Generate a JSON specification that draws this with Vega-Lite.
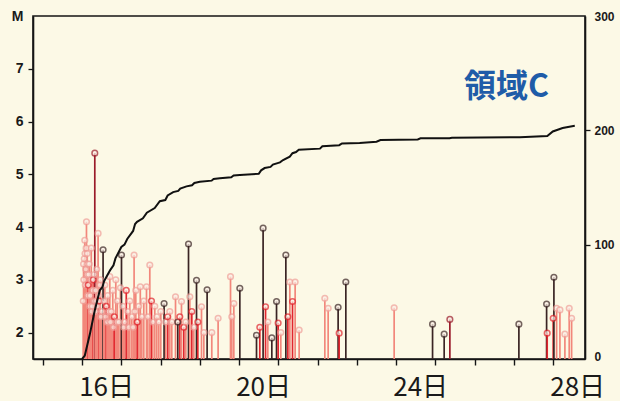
{
  "$schema": "https://vega.github.io/schema/vega-lite/v6.json",
  "width": 552,
  "height": 343,
  "autosize": {"type": "none"},
  "padding": {"left": 33, "top": 16, "right": 35, "bottom": 42},
  "background": "#fcf9e6",
  "config": {
    "view": {"stroke": "#151515", "strokeWidth": 1.6},
    "font": "Liberation Sans"
  },
  "datasets": {
    "eq": [
      {"day": 16.031, "M": 2.6, "c": "P"},
      {"day": 16.038, "M": 3.3, "c": "P"},
      {"day": 16.045, "M": 3.0, "c": "P"},
      {"day": 16.056, "M": 3.4, "c": "P"},
      {"day": 16.069, "M": 3.75, "c": "P"},
      {"day": 16.076, "M": 3.5, "c": "P"},
      {"day": 16.082, "M": 2.9, "c": "P"},
      {"day": 16.094, "M": 3.2, "c": "P"},
      {"day": 16.103, "M": 3.6, "c": "P"},
      {"day": 16.112, "M": 4.1, "c": "P"},
      {"day": 16.122, "M": 3.1, "c": "P"},
      {"day": 16.132, "M": 3.5, "c": "P"},
      {"day": 16.140, "M": 3.3, "c": "P"},
      {"day": 16.145, "M": 2.7, "c": "P"},
      {"day": 16.158, "M": 2.9, "c": "R"},
      {"day": 16.170, "M": 3.1, "c": "P"},
      {"day": 16.183, "M": 3.3, "c": "P"},
      {"day": 16.196, "M": 2.5, "c": "P"},
      {"day": 16.209, "M": 2.7, "c": "P"},
      {"day": 16.222, "M": 3.0, "c": "P"},
      {"day": 16.234, "M": 3.6, "c": "P"},
      {"day": 16.247, "M": 2.4, "c": "P"},
      {"day": 16.260, "M": 2.5, "c": "P"},
      {"day": 16.272, "M": 2.8, "c": "P"},
      {"day": 16.285, "M": 3.0, "c": "R"},
      {"day": 16.300, "M": 2.6, "c": "P"},
      {"day": 16.312, "M": 3.1, "c": "P"},
      {"day": 16.324, "M": 5.4, "c": "D"},
      {"day": 16.337, "M": 2.4, "c": "P"},
      {"day": 16.349, "M": 2.8, "c": "P"},
      {"day": 16.362, "M": 2.6, "c": "P"},
      {"day": 16.375, "M": 3.2, "c": "P"},
      {"day": 16.390, "M": 2.5, "c": "P"},
      {"day": 16.408, "M": 3.88, "c": "P"},
      {"day": 16.420, "M": 2.7, "c": "P"},
      {"day": 16.438, "M": 2.6, "c": "R"},
      {"day": 16.450, "M": 2.9, "c": "P"},
      {"day": 16.464, "M": 3.0, "c": "P"},
      {"day": 16.480, "M": 2.3, "c": "P"},
      {"day": 16.502, "M": 2.4, "c": "P"},
      {"day": 16.535, "M": 3.57, "c": "K"},
      {"day": 16.555, "M": 2.6, "c": "P"},
      {"day": 16.578, "M": 2.9, "c": "P"},
      {"day": 16.600, "M": 2.3, "c": "P"},
      {"day": 16.617, "M": 2.5, "c": "R"},
      {"day": 16.635, "M": 2.2, "c": "P"},
      {"day": 16.655, "M": 2.7, "c": "P"},
      {"day": 16.680, "M": 2.4, "c": "P"},
      {"day": 16.706, "M": 3.06, "c": "P"},
      {"day": 16.725, "M": 2.2, "c": "P"},
      {"day": 16.744, "M": 2.4, "c": "P"},
      {"day": 16.782, "M": 2.8, "c": "P"},
      {"day": 16.800, "M": 2.1, "c": "P"},
      {"day": 16.820, "M": 2.3, "c": "R"},
      {"day": 16.859, "M": 3.0, "c": "P"},
      {"day": 16.878, "M": 2.2, "c": "P"},
      {"day": 16.897, "M": 2.6, "c": "P"},
      {"day": 16.935, "M": 2.2, "c": "P"},
      {"day": 16.978, "M": 2.85, "c": "P"},
      {"day": 17.004, "M": 3.47, "c": "K"},
      {"day": 17.037, "M": 2.5, "c": "P"},
      {"day": 17.060, "M": 2.1, "c": "P"},
      {"day": 17.088, "M": 2.2, "c": "P"},
      {"day": 17.126, "M": 2.8, "c": "R"},
      {"day": 17.164, "M": 2.4, "c": "P"},
      {"day": 17.190, "M": 2.1, "c": "P"},
      {"day": 17.215, "M": 2.6, "c": "P"},
      {"day": 17.266, "M": 2.3, "c": "P"},
      {"day": 17.300, "M": 2.1, "c": "P"},
      {"day": 17.325, "M": 3.47, "c": "P"},
      {"day": 17.345, "M": 2.4, "c": "P"},
      {"day": 17.368, "M": 2.8, "c": "P"},
      {"day": 17.406, "M": 2.2, "c": "R"},
      {"day": 17.445, "M": 2.5, "c": "P"},
      {"day": 17.483, "M": 2.87, "c": "P"},
      {"day": 17.521, "M": 2.3, "c": "P"},
      {"day": 17.572, "M": 2.6, "c": "P"},
      {"day": 17.641, "M": 2.87, "c": "P"},
      {"day": 17.674, "M": 2.3, "c": "P"},
      {"day": 17.725, "M": 3.28, "c": "P"},
      {"day": 17.768, "M": 2.6, "c": "R"},
      {"day": 17.801, "M": 2.2, "c": "P"},
      {"day": 17.852, "M": 2.5, "c": "P"},
      {"day": 17.903, "M": 2.3, "c": "P"},
      {"day": 17.954, "M": 2.2, "c": "P"},
      {"day": 18.005, "M": 2.4, "c": "P"},
      {"day": 18.089, "M": 2.55, "c": "K"},
      {"day": 18.132, "M": 2.2, "c": "P"},
      {"day": 18.183, "M": 2.3, "c": "R"},
      {"day": 18.234, "M": 2.4, "c": "P"},
      {"day": 18.285, "M": 2.2, "c": "P"},
      {"day": 18.380, "M": 2.68, "c": "P"},
      {"day": 18.438, "M": 2.2, "c": "K"},
      {"day": 18.489, "M": 2.3, "c": "R"},
      {"day": 18.532, "M": 2.59, "c": "P"},
      {"day": 18.591, "M": 2.1, "c": "R"},
      {"day": 18.642, "M": 2.2, "c": "P"},
      {"day": 18.711, "M": 3.68, "c": "K"},
      {"day": 18.744, "M": 2.68, "c": "P"},
      {"day": 18.795, "M": 2.4, "c": "R"},
      {"day": 18.846, "M": 2.1, "c": "P"},
      {"day": 18.915, "M": 2.99, "c": "K"},
      {"day": 18.948, "M": 2.2, "c": "R"},
      {"day": 19.042, "M": 2.49, "c": "P"},
      {"day": 19.101, "M": 2.0, "c": "P"},
      {"day": 19.185, "M": 2.81, "c": "K"},
      {"day": 19.304, "M": 2.0, "c": "P"},
      {"day": 19.465, "M": 2.27, "c": "P"},
      {"day": 19.781, "M": 3.06, "c": "P"},
      {"day": 19.814, "M": 2.3, "c": "P"},
      {"day": 19.865, "M": 2.55, "c": "P"},
      {"day": 20.018, "M": 2.84, "c": "K"},
      {"day": 20.443, "M": 1.95, "c": "K"},
      {"day": 20.527, "M": 2.1, "c": "R"},
      {"day": 20.611, "M": 3.98, "c": "K"},
      {"day": 20.673, "M": 2.49, "c": "R"},
      {"day": 20.731, "M": 2.2, "c": "P"},
      {"day": 20.833, "M": 1.9, "c": "K"},
      {"day": 20.953, "M": 2.59, "c": "K"},
      {"day": 20.994, "M": 2.18, "c": "R"},
      {"day": 21.062, "M": 2.0, "c": "P"},
      {"day": 21.190, "M": 3.47, "c": "K"},
      {"day": 21.241, "M": 2.3, "c": "R"},
      {"day": 21.292, "M": 2.96, "c": "P"},
      {"day": 21.360, "M": 2.59, "c": "R"},
      {"day": 21.427, "M": 2.96, "c": "P"},
      {"day": 21.529, "M": 2.05, "c": "P"},
      {"day": 22.183, "M": 2.65, "c": "P"},
      {"day": 22.268, "M": 2.46, "c": "P"},
      {"day": 22.522, "M": 2.48, "c": "K"},
      {"day": 22.548, "M": 1.99, "c": "R"},
      {"day": 22.718, "M": 2.96, "c": "K"},
      {"day": 23.949, "M": 2.47, "c": "P"},
      {"day": 24.927, "M": 2.16, "c": "K"},
      {"day": 25.223, "M": 1.97, "c": "K"},
      {"day": 25.368, "M": 2.25, "c": "D"},
      {"day": 27.126, "M": 2.16, "c": "K"},
      {"day": 27.832, "M": 2.54, "c": "K"},
      {"day": 27.847, "M": 1.99, "c": "R"},
      {"day": 28.000, "M": 2.27, "c": "R"},
      {"day": 28.018, "M": 3.05, "c": "K"},
      {"day": 28.087, "M": 2.46, "c": "P"},
      {"day": 28.171, "M": 2.43, "c": "P"},
      {"day": 28.298, "M": 1.97, "c": "P"},
      {"day": 28.408, "M": 2.46, "c": "P"},
      {"day": 28.469, "M": 2.27, "c": "P"}
    ],
    "cum": [
      {"day": 16.0, "count": 0},
      {"day": 16.07, "count": 3},
      {"day": 16.2, "count": 22},
      {"day": 16.32, "count": 42},
      {"day": 16.45, "count": 60},
      {"day": 16.52, "count": 63},
      {"day": 16.56, "count": 68},
      {"day": 16.72, "count": 78},
      {"day": 16.8, "count": 82},
      {"day": 16.85, "count": 88},
      {"day": 17.0, "count": 98},
      {"day": 17.08, "count": 100},
      {"day": 17.15, "count": 105},
      {"day": 17.3, "count": 112},
      {"day": 17.35, "count": 118},
      {"day": 17.4, "count": 120},
      {"day": 17.55, "count": 123},
      {"day": 17.65, "count": 128},
      {"day": 17.85, "count": 132},
      {"day": 17.98, "count": 138},
      {"day": 18.12, "count": 139},
      {"day": 18.18, "count": 143},
      {"day": 18.32, "count": 146},
      {"day": 18.45, "count": 147},
      {"day": 18.5, "count": 149},
      {"day": 18.66, "count": 151},
      {"day": 18.8, "count": 152},
      {"day": 18.86, "count": 154},
      {"day": 19.0, "count": 155},
      {"day": 19.3, "count": 156},
      {"day": 19.35, "count": 157.5},
      {"day": 19.51, "count": 158},
      {"day": 19.8, "count": 159},
      {"day": 19.86, "count": 160.5},
      {"day": 20.02, "count": 161},
      {"day": 20.5, "count": 162},
      {"day": 20.56, "count": 165},
      {"day": 20.65, "count": 167},
      {"day": 20.8, "count": 168},
      {"day": 20.86, "count": 170},
      {"day": 21.04, "count": 172},
      {"day": 21.12, "count": 174},
      {"day": 21.29, "count": 177},
      {"day": 21.36, "count": 180},
      {"day": 21.45, "count": 181},
      {"day": 21.52, "count": 183},
      {"day": 22.06, "count": 184},
      {"day": 22.12, "count": 186},
      {"day": 22.55, "count": 187},
      {"day": 22.62, "count": 188.5},
      {"day": 23.07, "count": 189},
      {"day": 23.5, "count": 190},
      {"day": 23.6, "count": 191.5},
      {"day": 24.55, "count": 192},
      {"day": 24.62, "count": 193},
      {"day": 25.36, "count": 193},
      {"day": 25.42, "count": 193.5},
      {"day": 27.15, "count": 194},
      {"day": 27.85, "count": 195},
      {"day": 27.99, "count": 199},
      {"day": 28.24, "count": 202},
      {"day": 28.55, "count": 204}
    ],
    "lab": [
      {"day": 26.81, "M": 6.65, "text": "領域C"}
    ]
  },
  "layer": [
    {
      "layer": [
        {
          "data": {"name": "eq"},
          "mark": {"type": "rule", "strokeWidth": 1.7},
          "encoding": {
            "x": {
              "field": "day", "type": "quantitative",
              "scale": {"domain": [14.75, 28.81], "nice": false, "zero": false},
              "axis": {
                "values": [15, 16, 17, 18, 19, 20, 21, 22, 23, 24, 25, 26, 27, 28],
                "labelExpr": "datum.value % 4 == 0 ? datum.value + '日' : ''",
                "title": null, "grid": false,
                "labelFont": "Liberation Sans Narrow, Noto Sans CJK JP",
                "labelFontSize": 26, "labelColor": "#1a1a1a",
                "labelAlign": "center", "labelOffset": 24, "labelPadding": 9,
                "labelOverlap": false, "labelFlush": false, "labelBound": false,
                "tickSize": 6, "tickColor": "#151515", "tickWidth": 1.4,
                "domainColor": "#151515", "domainWidth": 1.6
              }
            },
            "y": {
              "field": "M", "type": "quantitative",
              "scale": {"domain": [1.5, 8], "nice": false, "zero": false},
              "axis": {
                "values": [2, 3, 4, 5, 6, 7, 8],
                "labelExpr": "datum.value == 8 ? 'M' : datum.label",
                "title": null, "grid": false,
                "labelFont": "Liberation Sans", "labelFontWeight": "bold",
                "labelFontSize": 14, "labelColor": "#1a1a1a", "labelPadding": 5,
                "tickSize": 5, "tickColor": "#151515", "tickWidth": 1.3,
                "tickOpacity": {"condition": {"test": "datum.value == 8", "value": 0}, "value": 1},
                "domainColor": "#151515", "domainWidth": 1.6
              }
            },
            "y2": {"datum": 1.5},
            "color": {
              "field": "c", "type": "nominal",
              "scale": {"domain": ["P", "R", "K", "D"], "range": ["#f2877b", "#e1262e", "#3a2424", "#9a1b2a"]},
              "legend": null
            }
          }
        },
        {
          "data": {"name": "eq"},
          "mark": {"type": "point", "shape": "circle", "filled": true, "fill": "#fbeee6", "size": 32, "strokeWidth": 1.5},
          "encoding": {
            "x": {"field": "day", "type": "quantitative", "scale": {"domain": [14.75, 28.81], "nice": false, "zero": false}},
            "y": {"field": "M", "type": "quantitative", "scale": {"domain": [1.5, 8], "nice": false, "zero": false}},
            "stroke": {
              "field": "c", "type": "nominal",
              "scale": {"domain": ["P", "R", "K", "D"], "range": ["#f0a09a", "#e1262e", "#3a2424", "#9a1b2a"]},
              "legend": null
            }
          }
        },
        {
          "data": {"name": "lab"},
          "mark": {"type": "text", "font": "Noto Sans CJK JP", "fontWeight": "bold", "fontSize": 32, "color": "#1f5ca8", "align": "center", "baseline": "middle"},
          "encoding": {
            "x": {"field": "day", "type": "quantitative", "scale": {"domain": [14.75, 28.81], "nice": false, "zero": false}},
            "y": {"field": "M", "type": "quantitative", "scale": {"domain": [1.5, 8], "nice": false, "zero": false}},
            "text": {"field": "text"}
          }
        }
      ]
    },
    {
      "data": {"name": "cum"},
      "mark": {"type": "line", "color": "#111111", "strokeWidth": 2},
      "encoding": {
        "x": {"field": "day", "type": "quantitative", "scale": {"domain": [14.75, 28.81], "nice": false, "zero": false}},
        "y": {
          "field": "count", "type": "quantitative",
          "scale": {"domain": [0, 300], "nice": false},
          "axis": {
            "orient": "right", "values": [0, 100, 200, 300],
            "title": null, "grid": false,
            "labelFont": "Liberation Sans", "labelFontWeight": "bold",
            "labelFontSize": 12, "labelColor": "#1a1a1a", "labelPadding": 4,
            "labelOffset": {"condition": {"test": "datum.value == 0", "value": -3}, "value": 0},
            "tickSize": 5, "tickColor": "#151515", "tickWidth": 1.3,
            "tickOpacity": {"condition": {"test": "datum.value == 300 || datum.value == 0", "value": 0}, "value": 1},
            "domainColor": "#151515", "domainWidth": 1.6
          }
        }
      }
    }
  ],
  "resolve": {"scale": {"y": "independent"}, "axis": {"y": "independent"}}
}
